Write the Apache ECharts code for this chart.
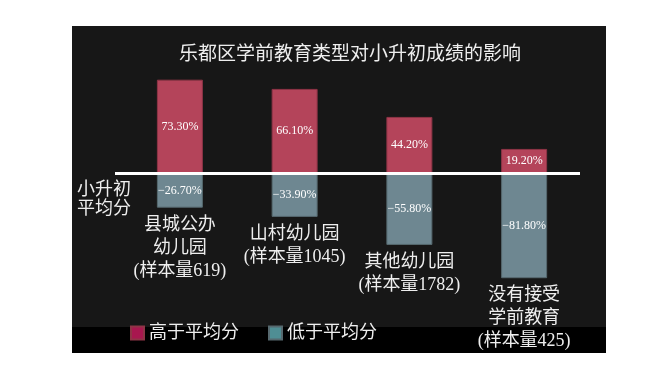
<!DOCTYPE html>
<html>
<head>
<meta charset="utf-8">
<script src="https://cdn.jsdelivr.net/npm/echarts@6/dist/echarts.min.js"></script>
<style>html,body{margin:0;padding:0;background:#fff;}#c{width:652px;height:368px;}</style>
</head>
<body>
<div id="c"></div>
<script>
var titleText = '乐都区学前教育类型对小升初成绩的影响';
var categories = ['县城公办\n幼儿园\n(样本量619)', '山村幼儿园\n(样本量1045)', '其他幼儿园\n(样本量1782)', '没有接受\n学前教育\n(样本量425)'];
var aboveValues = [73.3, 66.1, 44.2, 19.2];
var belowValues = [-26.7, -33.9, -55.8, -81.8];
var seriesNames = ['高于平均分', '低于平均分'];
var axisLabelText = '小升初\n平均分';

var FONT = '"Liberation Serif", "Noto Sans CJK SC", serif';
var chart = echarts.init(document.getElementById('c'), null, {renderer: 'canvas'});

function pct(v) {
  var s = Math.abs(v).toFixed(2) + '%';
  return v < 0 ? '\u2212' + s : s;
}

chart.setOption({
  backgroundColor: '#ffffff',
  animation: false,
  title: {
    text: titleText,
    left: 174, top: 41,
    textStyle: {color: '#eeeeee', fontSize: 19, fontWeight: 'normal', fontFamily: FONT}
  },
  legend: {
    left: 125, top: 319,
    icon: 'rect', itemWidth: 13, itemHeight: 13, itemGap: 29,
    textStyle: {color: '#eeeeee', fontSize: 18, fontFamily: FONT},
    data: [
      {name: seriesNames[0], itemStyle: {color: '#A8174F'}},
      {name: seriesNames[1], itemStyle: {color: '#4F8E94'}}
    ]
  },
  graphic: [
    {type: 'rect', z: -10, shape: {x: 72, y: 26, width: 534, height: 301}, style: {fill: '#171717'}, silent: true},
    {type: 'rect', z: -10, shape: {x: 72, y: 327, width: 534, height: 26}, style: {fill: '#000000'}, silent: true},
    {type: 'line', z: 100, shape: {x1: 115, y1: 173.5, x2: 580, y2: 173.5}, style: {stroke: '#ffffff', lineWidth: 3}, silent: true},
    {type: 'text', z: 100, left: 77, top: 181, style: {text: axisLabelText, fill: '#eeeeee', font: '18px ' + FONT, lineHeight: 19}}
  ],
  grid: {left: 122.5, width: 459, top: 45.5, height: 256, containLabel: false},
  xAxis: {
    type: 'category', data: categories,
    axisLine: {show: false}, axisTick: {show: false}, axisLabel: {show: false}, splitLine: {show: false}
  },
  yAxis: {
    type: 'value', min: -100, max: 100,
    show: false, splitLine: {show: false}
  },
  series: [
    {
      name: seriesNames[0], type: 'bar', data: aboveValues, barWidth: 46, barGap: '-100%',
      itemStyle: {color: '#B4445A', borderColor: '#8E3446', borderWidth: 1},
      label: {show: true, position: 'inside', color: '#ffffff', fontSize: 12, fontFamily: FONT,
        formatter: function (p) { return pct(p.value); }}
    },
    {
      name: seriesNames[1], type: 'bar', data: belowValues, barWidth: 46, barGap: '-100%',
      itemStyle: {color: '#6E8791', borderColor: '#56696F', borderWidth: 1},
      label: {show: true, position: 'inside', color: '#ffffff', fontSize: 12, fontFamily: FONT,
        formatter: function (p) { return pct(p.value); }}
    },
    {
      name: 'cat', type: 'bar', data: belowValues, barWidth: 46, barGap: '-100%', silent: true,
      itemStyle: {color: 'rgba(0,0,0,0)'},
      label: {show: true, position: 'bottom', distance: 6, color: '#eeeeee', fontSize: 18, lineHeight: 23,
        fontFamily: FONT, align: 'center',
        formatter: function (p) { return categories[p.dataIndex]; }}
    }
  ]
});
</script>
</body>
</html>
